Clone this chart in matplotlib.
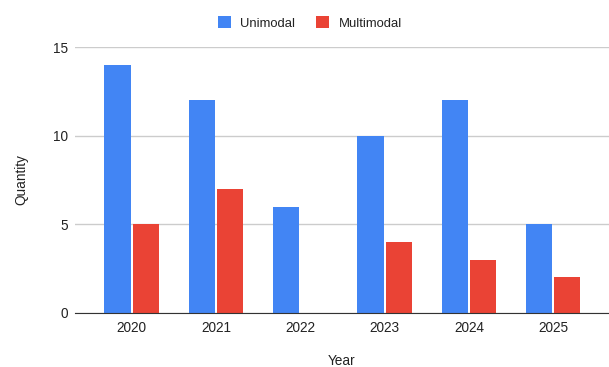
import numpy as np
import matplotlib.pyplot as plt

# Data
years = ["2020", "2021", "2022", "2023", "2024", "2025"]
unimodal = [14, 12, 6, 10, 12, 5]
multimodal = [5, 7, 0, 4, 3, 2]

plt.rcParams["font.family"] = ["Liberation Sans", "DejaVu Sans"]
FS = 9.8

fig = plt.figure(figsize=(6.09, 3.67), dpi=100)
ax = fig.add_axes([75 / 609, 1 - 312.7 / 367, 1 - 75 / 609, (312.7 - 47.3) / 367])

x = np.arange(len(years))
width = 0.31
gap = 0.012

ax.bar(x - width / 2 - gap, unimodal, width, color="#4285F4", label="Unimodal", zorder=3)
ax.bar(x + width / 2 + gap, multimodal, width, color="#EA4335", label="Multimodal", zorder=3)

ax.set_xlim(-0.67, 5.66)
ax.set_ylim(0, 15)
ax.set_yticks([0, 5, 10, 15])
ax.set_xticks(x)
ax.set_xticklabels(years)

ax.grid(axis="y", color="#cccccc", linewidth=1, zorder=0)
for side in ["top", "right", "left"]:
    ax.spines[side].set_visible(False)
ax.spines["bottom"].set_color("#333333")
ax.spines["bottom"].set_zorder(4)

ax.tick_params(axis="both", length=0, labelsize=FS, labelcolor="#222222")
ax.tick_params(axis="y", pad=5)
ax.tick_params(axis="x", pad=6)

ax.set_xlabel("Year", fontsize=FS, color="#222222", labelpad=14)
ax.set_ylabel("Quantity", fontsize=FS, color="#222222", labelpad=18)

fig.legend(
    loc="center",
    bbox_to_anchor=(310 / 609, 1 - 23 / 367),
    ncol=2,
    frameon=False,
    fontsize=9.4,
    handlelength=0.95,
    handleheight=0.95,
    handletextpad=0.75,
    columnspacing=1.6,
    labelcolor="#222222",
)

fig.savefig("out.png", dpi=100)
